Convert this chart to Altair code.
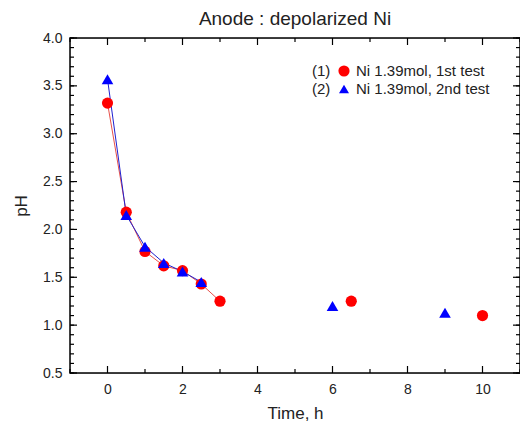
import altair as alt
import pandas as pd

# Data
red_t = [0, 0.5, 1, 1.5, 2, 2.5, 3, 6.5, 10]
red_ph = [3.32, 2.18, 1.77, 1.62, 1.57, 1.43, 1.25, 1.25, 1.10]
red_connected = 7  # first 7 points joined by a line

blue_t = [0, 0.5, 1, 1.5, 2, 2.5, 6, 9]
blue_ph = [3.57, 2.15, 1.82, 1.65, 1.56, 1.45, 1.20, 1.13]
blue_connected = 6

x_major = [0, 2, 4, 6, 8, 10]
x_minor = [-1, 1, 3, 5, 7, 9, 11]
y_major = [0.5, 1.0, 1.5, 2.0, 2.5, 3.0, 3.5, 4.0]
y_minor = [round(0.5 + 0.1 * i, 1) for i in range(36)]

legend_nums = ["(1)", "(2)"]
legend_labels = ["Ni 1.39mol, 1st test", "Ni 1.39mol, 2nd test"]

W, H = 450, 335
FONT = "Liberation Sans"

red = pd.DataFrame({"t": red_t, "ph": red_ph, "line": [i < red_connected for i in range(len(red_t))]})
blue = pd.DataFrame({"t": blue_t, "ph": blue_ph, "line": [i < blue_connected for i in range(len(blue_t))]})

xs = alt.Scale(domain=[-1, 11], nice=False, zero=False)
ys = alt.Scale(domain=[0.5, 4.0], nice=False, zero=False)

xax = alt.Axis(values=x_major, format="d", ticks=False, domain=False, grid=False,
               labelFont=FONT, labelFontSize=14, labelColor="#222", labelPadding=9,
               title="Time, h", titleFont=FONT, titleFontSize=17, titleFontWeight="normal",
               titleColor="#222", titlePadding=9)
yax = alt.Axis(values=y_major, format=".1f", ticks=False, domain=False, grid=False,
               labelFont=FONT, labelFontSize=14, labelColor="#222", labelPadding=8,
               title="pH", titleFont=FONT, titleFontSize=17, titleFontWeight="normal",
               titleColor="#222", titlePadding=12)

X = lambda f: alt.X(f, scale=xs, axis=xax)
Y = lambda f: alt.Y(f, scale=ys, axis=yax)

red_line = alt.Chart(red).transform_filter("datum.line").mark_line(color="#e8504a", strokeWidth=1).encode(
    x=X("t:Q"), y=Y("ph:Q"))
blue_line = alt.Chart(blue).transform_filter("datum.line").mark_line(color="#2020d0", strokeWidth=1).encode(
    x=X("t:Q"), y=Y("ph:Q"))
red_pts = alt.Chart(red).mark_point(shape="circle", filled=True, color="#ff0000", size=125, opacity=1).encode(
    x=X("t:Q"), y=Y("ph:Q"))
blue_pts = alt.Chart(blue).mark_point(shape="triangle-up", filled=True, color="#0000ff", size=135, opacity=1).encode(
    x=X("t:Q"), y=Y("ph:Q"))

# inward ticks on all four sides
def xticks(vals, length):
    d = pd.DataFrame({"v": vals})
    bot = alt.Chart(d).mark_rule(color="black", strokeWidth=1.2).encode(
        x=X("v:Q"), y=alt.value(H), y2=alt.value(H - length))
    top = alt.Chart(d).mark_rule(color="black", strokeWidth=1.2).encode(
        x=X("v:Q"), y=alt.value(0), y2=alt.value(length))
    return [bot, top]

def yticks(vals, length):
    d = pd.DataFrame({"v": vals})
    left = alt.Chart(d).mark_rule(color="black", strokeWidth=1.2).encode(
        y=Y("v:Q"), x=alt.value(0), x2=alt.value(length))
    right = alt.Chart(d).mark_rule(color="black", strokeWidth=1.2).encode(
        y=Y("v:Q"), x=alt.value(W), x2=alt.value(W - length))
    return [left, right]

ticks = xticks(x_major, 7) + xticks(x_minor, 4) + yticks(y_major, 7) + yticks(y_minor, 4)

frame = alt.Chart(pd.DataFrame({"a": [0]})).mark_rect(fill=None, stroke="black", strokeWidth=1.5).encode(
    x=alt.value(0), x2=alt.value(W), y=alt.value(0), y2=alt.value(H))

# custom legend
legend_layers = []
row_y = [33, 51]
for i in range(2):
    d = pd.DataFrame({"num": [legend_nums[i]], "label": [legend_labels[i]]})
    legend_layers.append(alt.Chart(d).mark_text(align="left", baseline="middle", font=FONT, fontSize=15,
                                                color="#222").encode(
        text="num:N", x=alt.value(242), y=alt.value(row_y[i])))
    legend_layers.append(alt.Chart(d).mark_text(align="left", baseline="middle", font=FONT, fontSize=15,
                                                color="#222").encode(
        text="label:N", x=alt.value(286), y=alt.value(row_y[i])))
    if i == 0:
        legend_layers.append(alt.Chart(d).mark_point(shape="circle", filled=True, color="#ff0000", size=125,
                                                     opacity=1).encode(x=alt.value(274), y=alt.value(row_y[i])))
    else:
        legend_layers.append(alt.Chart(d).mark_point(shape="triangle-up", filled=True, color="#0000ff", size=100,
                                                     opacity=1).encode(x=alt.value(274), y=alt.value(row_y[i])))

chart = alt.layer(red_line, blue_line, red_pts, blue_pts, *ticks, frame, *legend_layers).properties(
    width=W, height=H,
    title=alt.TitleParams("Anode : depolarized Ni", font=FONT, fontSize=19, fontWeight="normal",
                          color="#222", anchor="middle", offset=2),
    autosize=alt.AutoSizeParams(type="none"),
    padding={"left": 62, "top": 30, "right": 0, "bottom": 48},
).configure_view(stroke=None).configure(background="white")

chart.save("out.html", embed_options={"renderer": "svg", "actions": False})
